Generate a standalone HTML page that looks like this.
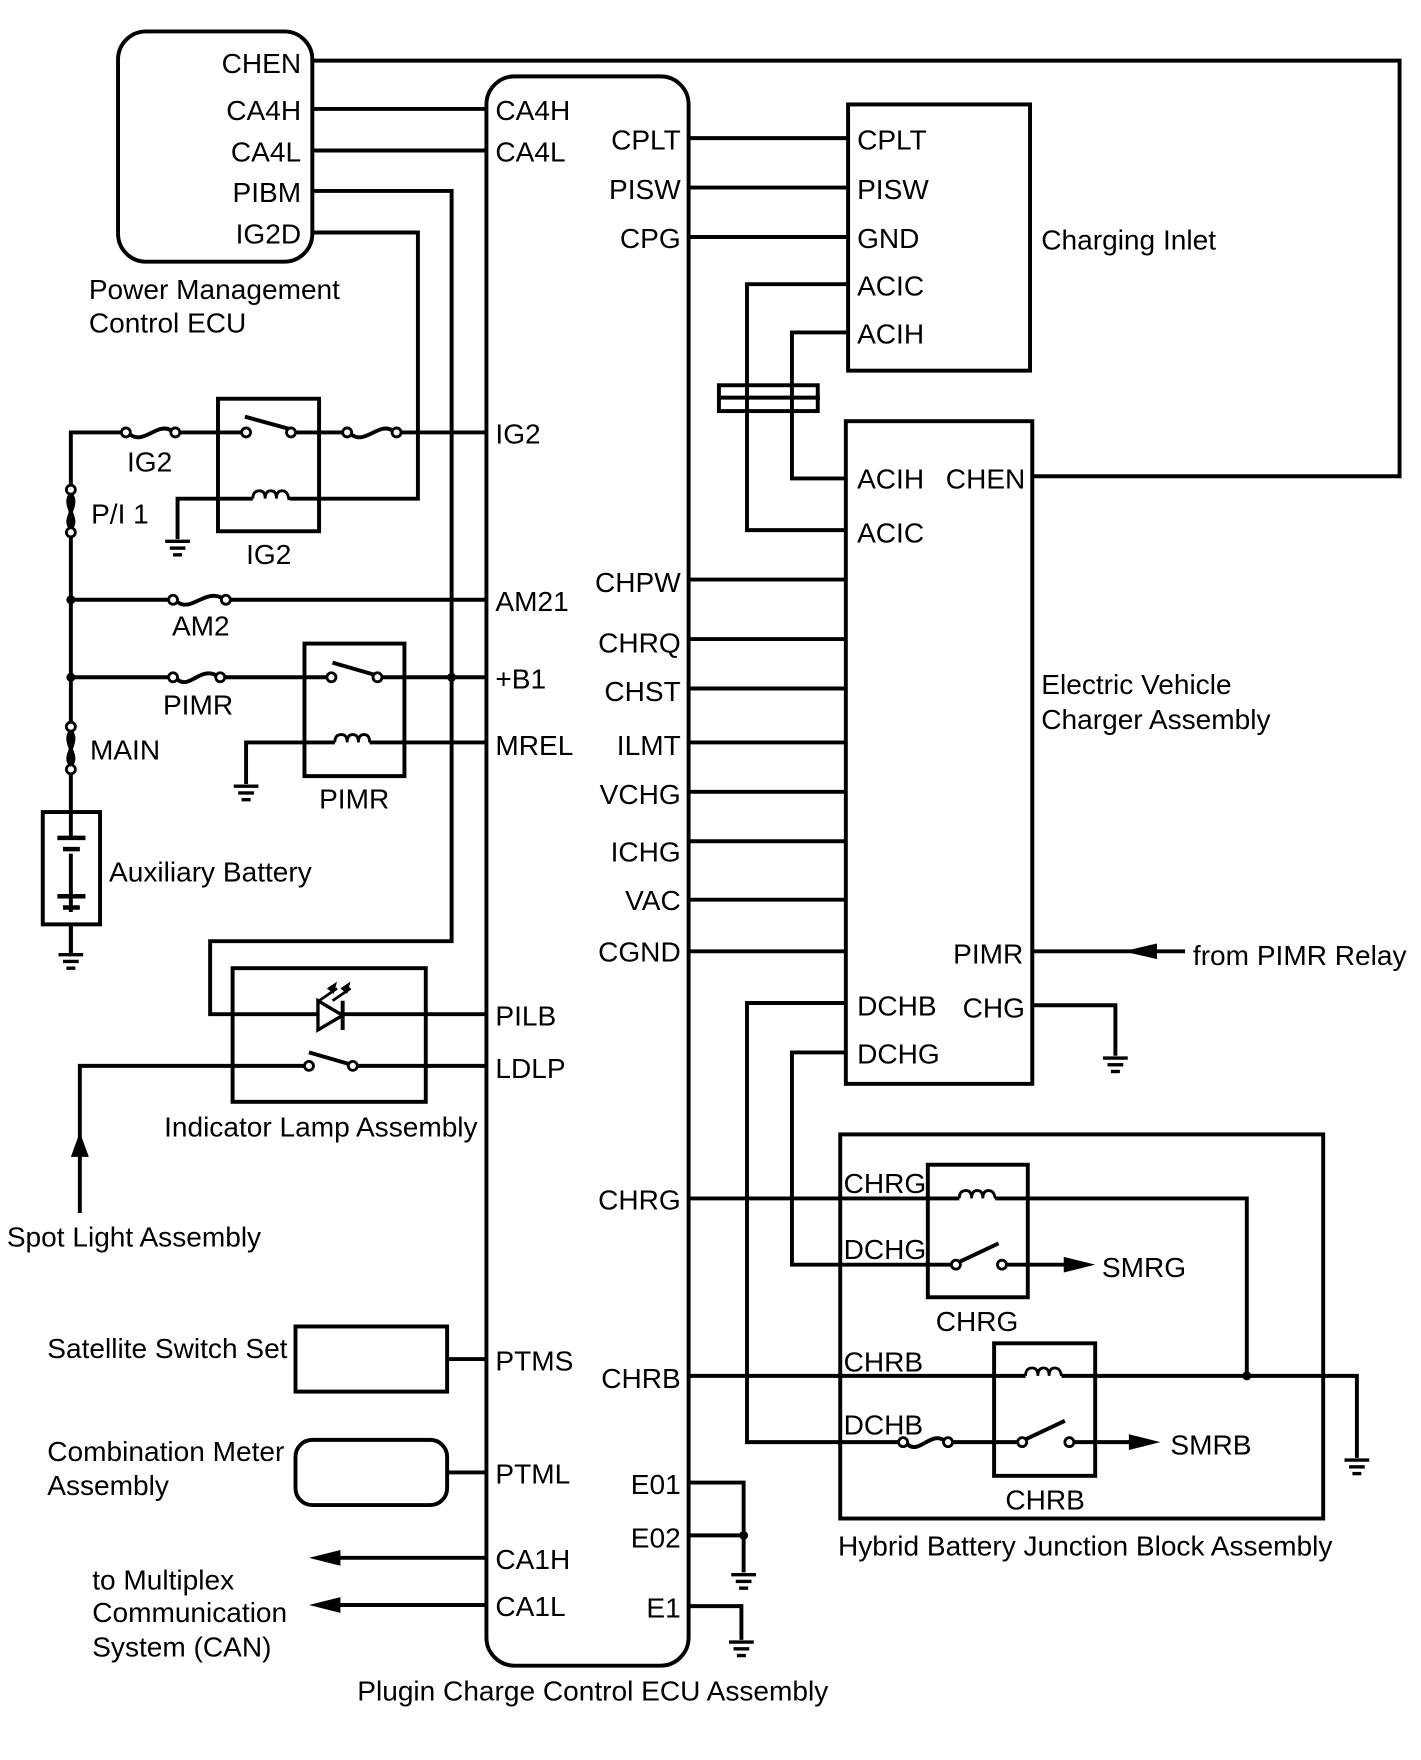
<!DOCTYPE html>
<html><head><meta charset="utf-8"><style>
html,body{margin:0;padding:0;background:#fff}
svg{display:block}
text{font-family:"Liberation Sans",Arial,sans-serif;font-size:25px;fill:#000}
</style></head><body>
<svg width="1421" height="1760" viewBox="0 0 1265 1567" xmlns="http://www.w3.org/2000/svg">
<defs>
<g id="gnd" stroke="#000" stroke-width="3"><line x1="-11" y1="0" x2="11" y2="0"/><line x1="-7" y1="6" x2="7" y2="6"/><line x1="-4" y1="12" x2="4" y2="12"/></g>
</defs>
<g fill="none" stroke="#000" stroke-width="3.5">
<rect x="105" y="28" width="173" height="205" rx="25"/>
<rect x="433" y="68" width="180" height="1415" rx="25"/>
<rect x="755" y="93" width="162" height="237"/>
<rect x="753" y="375" width="166" height="590"/>
<rect x="748" y="1010" width="430" height="342"/>
<polyline points="278,54 1246,54 1246,424 919,424"/>
<line x1="278" y1="97" x2="433" y2="97"/>
<line x1="278" y1="134" x2="433" y2="134"/>
<polyline points="278,170 402,170 402,838 187,838 187,903 433,903"/>
<polyline points="278,207 372,207 372,444 258,444"/>
<rect x="194" y="355" width="90" height="118"/>
<polyline points="63,850 63,385 108,385"/>
<line x1="160" y1="385" x2="216" y2="385"/>
<line x1="262" y1="385" x2="305" y2="385"/>
<line x1="357" y1="385" x2="433" y2="385"/>
<line x1="218" y1="371" x2="258" y2="382"/>
<polyline points="225,444 158,444 158,480"/>
<line x1="63" y1="534" x2="150" y2="534"/>
<line x1="205" y1="534" x2="433" y2="534"/>
<line x1="63" y1="603" x2="150" y2="603"/>
<line x1="200" y1="603" x2="292" y2="603"/>
<line x1="340" y1="603" x2="433" y2="603"/>
<rect x="271" y="573" width="89" height="118"/>
<line x1="296" y1="590" x2="334" y2="601"/>
<polyline points="433,661 329,661"/>
<polyline points="298,661 219,661 219,698"/>
<rect x="38" y="723" width="51" height="100" fill="#fff"/>
<line x1="63" y1="723" x2="63" y2="745"/>
<line x1="63" y1="760" x2="63" y2="812"/>
<line x1="63" y1="823" x2="63" y2="848"/>
<rect x="207" y="862" width="172" height="119"/>
<line x1="284" y1="891" x2="300" y2="880" stroke-width="2.5"/>
<line x1="296" y1="891" x2="312" y2="880" stroke-width="2.5"/>
<line x1="305" y1="891" x2="305" y2="917"/>
<polyline points="433,949 318,949"/>
<polyline points="272,949 71,949 71,1080"/>
<line x1="275" y1="937" x2="313" y2="948"/>
<rect x="263" y="1181" width="135" height="58"/>
<line x1="398" y1="1210" x2="433" y2="1210"/>
<rect x="263" y="1282" width="135" height="58" rx="15"/>
<line x1="398" y1="1311" x2="433" y2="1311"/>
<line x1="300" y1="1387" x2="433" y2="1387"/>
<line x1="300" y1="1429" x2="433" y2="1429"/>
<line x1="613" y1="123" x2="755" y2="123"/>
<line x1="613" y1="167" x2="755" y2="167"/>
<line x1="613" y1="211" x2="755" y2="211"/>
<polyline points="755,253 665,253 665,472 753,472"/>
<polyline points="755,296 705,296 705,426 753,426"/>
<rect x="640" y="343" width="88" height="23"/>
<line x1="640" y1="354" x2="730" y2="354"/>
<line x1="613" y1="516" x2="753" y2="516"/>
<line x1="613" y1="569" x2="753" y2="569"/>
<line x1="613" y1="613" x2="753" y2="613"/>
<line x1="613" y1="661" x2="753" y2="661"/>
<line x1="613" y1="705" x2="753" y2="705"/>
<line x1="613" y1="749" x2="753" y2="749"/>
<line x1="613" y1="801" x2="753" y2="801"/>
<line x1="613" y1="847" x2="753" y2="847"/>
<line x1="919" y1="847" x2="1055" y2="847"/>
<polyline points="919,895 993,895 993,940"/>
<polyline points="753,893 665,893 665,1284 800,1284"/>
<polyline points="753,937 705,937 705,1126 847,1126"/>
<rect x="826" y="1037" width="89" height="118"/>
<line x1="613" y1="1067" x2="854" y2="1067"/>
<polyline points="886,1067 1110,1067 1110,1225"/>
<line x1="853" y1="1124" x2="889" y2="1107"/>
<line x1="897" y1="1126" x2="950" y2="1126"/>
<rect x="885" y="1196" width="90" height="118"/>
<line x1="613" y1="1225" x2="913" y2="1225"/>
<polyline points="945,1225 1208,1225 1208,1298"/>
<line x1="848" y1="1284" x2="907" y2="1284"/>
<line x1="912" y1="1282" x2="948" y2="1265"/>
<line x1="956" y1="1284" x2="1008" y2="1284"/>
<polyline points="613,1320 662,1320 662,1400"/>
<line x1="613" y1="1367" x2="662" y2="1367"/>
<polyline points="613,1430 660,1430 660,1460"/>
<path d="M116,387 C128,396 140,376 152,383"/>
<path d="M313,387 C325,396 337,376 349,383"/>
<path d="M158,536 C170,545 182,525 197,532"/>
<path d="M158,605 C168,614 178,594 192,601"/>
<path d="M808,1286 C818,1295 828,1275 840,1282"/>
<path d="M63,440 C55,450 71,462 63,470 M63,440 C71,450 55,462 63,470"/>
<path d="M63,651 C55,661 71,673 63,681 M63,651 C71,661 55,673 63,681"/>
<path d="M225,444 q0,-7 6,-7 q5,0 5,7 q0,-7 5,-7 q5,0 5,7 q0,-7 5,-7 q5,0 6,7 h5" stroke-width="2.5"/>
<path d="M298,661 q0,-7 6,-7 q5,0 5,7 q0,-7 5,-7 q5,0 5,7 q0,-7 5,-7 q5,0 5,7" stroke-width="2.5"/>
<path d="M854,1067 q0,-7 6,-7 q5,0 5,7 q0,-7 5,-7 q5,0 5,7 q0,-7 5,-7 q5,0 6,7" stroke-width="2.5"/>
<path d="M913,1225 q0,-7 6,-7 q5,0 5,7 q0,-7 5,-7 q5,0 5,7 q0,-7 5,-7 q5,0 6,7" stroke-width="2.5"/>
</g>
<g fill="#fff" stroke="#000" stroke-width="2.5">
<circle cx="112" cy="385" r="4"/><circle cx="156" cy="385" r="4"/>
<circle cx="309" cy="385" r="4"/><circle cx="353" cy="385" r="4"/>
<circle cx="219" cy="385" r="4"/><circle cx="259" cy="385" r="4"/>
<circle cx="154" cy="534" r="4"/><circle cx="201" cy="534" r="4"/>
<circle cx="154" cy="603" r="4"/><circle cx="196" cy="603" r="4"/>
<circle cx="295" cy="603" r="4"/><circle cx="336" cy="603" r="4"/>
<circle cx="63" cy="436" r="4"/><circle cx="63" cy="474" r="4"/>
<circle cx="63" cy="647" r="4"/><circle cx="63" cy="685" r="4"/>
<circle cx="275" cy="949" r="4"/><circle cx="314" cy="949" r="4"/>
<circle cx="851" cy="1126" r="4"/><circle cx="892" cy="1126" r="4"/>
<circle cx="804" cy="1284" r="4"/><circle cx="844" cy="1284" r="4"/>
<circle cx="910" cy="1284" r="4"/><circle cx="952" cy="1284" r="4"/>
</g>
<g fill="#000">
<circle cx="63" cy="534" r="4"/><circle cx="63" cy="603" r="4"/><circle cx="402" cy="603" r="4"/>
<circle cx="1110" cy="1225" r="4"/><circle cx="662" cy="1367" r="4"/>
<polygon points="283,891 305,904 283,917" fill="#fff" stroke="#000" stroke-width="3"/>
<polygon points="300,874 291,880 297,885"/><polygon points="312,874 303,880 309,885"/>
<polygon points="71,1008 63,1030 79,1030"/>
<polygon points="275,1387 303,1380 303,1394"/>
<polygon points="275,1429 303,1422 303,1436"/>
<polygon points="1000,847 1030,840 1030,854"/>
<polygon points="975,1126 947,1119 947,1133"/>
<polygon points="1033,1284 1005,1277 1005,1291"/>
<rect x="51" y="744" width="25" height="4"/><rect x="56" y="754" width="15" height="4"/>
<rect x="51" y="796" width="25" height="4"/><rect x="56" y="806" width="15" height="4"/>
</g>
<g transform="translate(158,482)"><use href="#gnd"/></g>
<g transform="translate(219,700)"><use href="#gnd"/></g>
<g transform="translate(63,850)"><use href="#gnd"/></g>
<g transform="translate(993,942)"><use href="#gnd"/></g>
<g transform="translate(1208,1300)"><use href="#gnd"/></g>
<g transform="translate(662,1402)"><use href="#gnd"/></g>
<g transform="translate(660,1462)"><use href="#gnd"/></g>
<g text-anchor="end">
<text x="268" y="65">CHEN</text><text x="268" y="107">CA4H</text><text x="268" y="144">CA4L</text>
<text x="268" y="180">PIBM</text><text x="268" y="217">IG2D</text>
<text x="606" y="133">CPLT</text><text x="606" y="177">PISW</text><text x="606" y="221">CPG</text>
<text x="606" y="527">CHPW</text><text x="606" y="581">CHRQ</text><text x="606" y="624">CHST</text>
<text x="606" y="672">ILMT</text><text x="606" y="716">VCHG</text><text x="606" y="767">ICHG</text>
<text x="606" y="810">VAC</text><text x="606" y="856">CGND</text><text x="606" y="1077">CHRG</text>
<text x="606" y="1236">CHRB</text><text x="606" y="1330">E01</text><text x="606" y="1378">E02</text>
<text x="606" y="1440">E1</text><text x="911" y="858">PIMR</text>
</g>
<text x="441" y="107">CA4H</text><text x="441" y="144">CA4L</text><text x="441" y="395">IG2</text>
<text x="441" y="544">AM21</text><text x="441" y="613">+B1</text><text x="441" y="672">MREL</text>
<text x="441" y="913">PILB</text><text x="441" y="960">LDLP</text><text x="441" y="1220">PTMS</text>
<text x="441" y="1321">PTML</text><text x="441" y="1397">CA1H</text><text x="441" y="1439">CA1L</text>
<text x="79" y="266">Power Management</text><text x="79" y="296">Control ECU</text>
<text x="113" y="420">IG2</text><text x="81" y="466">P/I 1</text><text x="219" y="502">IG2</text>
<text x="153" y="566">AM2</text><text x="145" y="636">PIMR</text><text x="80" y="676">MAIN</text>
<text x="284" y="720">PIMR</text><text x="97" y="785">Auxiliary Battery</text>
<text x="146" y="1012">Indicator Lamp Assembly</text><text x="6" y="1110">Spot Light Assembly</text>
<text x="42" y="1209">Satellite Switch Set</text>
<text x="42" y="1301">Combination Meter</text><text x="42" y="1331">Assembly</text>
<text x="82" y="1415">to Multiplex</text><text x="82" y="1444">Communication</text><text x="82" y="1475">System (CAN)</text>
<text x="318" y="1514">Plugin Charge Control ECU Assembly</text>
<text x="763" y="133">CPLT</text><text x="763" y="177">PISW</text><text x="763" y="221">GND</text>
<text x="763" y="263">ACIC</text><text x="763" y="306">ACIH</text><text x="927" y="222">Charging Inlet</text>
<text x="763" y="435">ACIH</text><text x="842" y="435">CHEN</text><text x="763" y="483">ACIC</text>
<text x="927" y="618">Electric Vehicle</text><text x="927" y="649">Charger Assembly</text>
<text x="1062" y="859">from PIMR Relay</text>
<text x="763" y="904">DCHB</text><text x="857" y="906">CHG</text><text x="763" y="947">DCHG</text>
<text x="751" y="1062">CHRG</text><text x="751" y="1121">DCHG</text><text x="833" y="1185">CHRG</text>
<text x="981" y="1137">SMRG</text>
<text x="751" y="1221">CHRB</text><text x="751" y="1277">DCHB</text><text x="895" y="1344">CHRB</text>
<text x="1042" y="1295">SMRB</text>
<text x="746" y="1385">Hybrid Battery Junction Block Assembly</text>
</svg>
</body></html>
